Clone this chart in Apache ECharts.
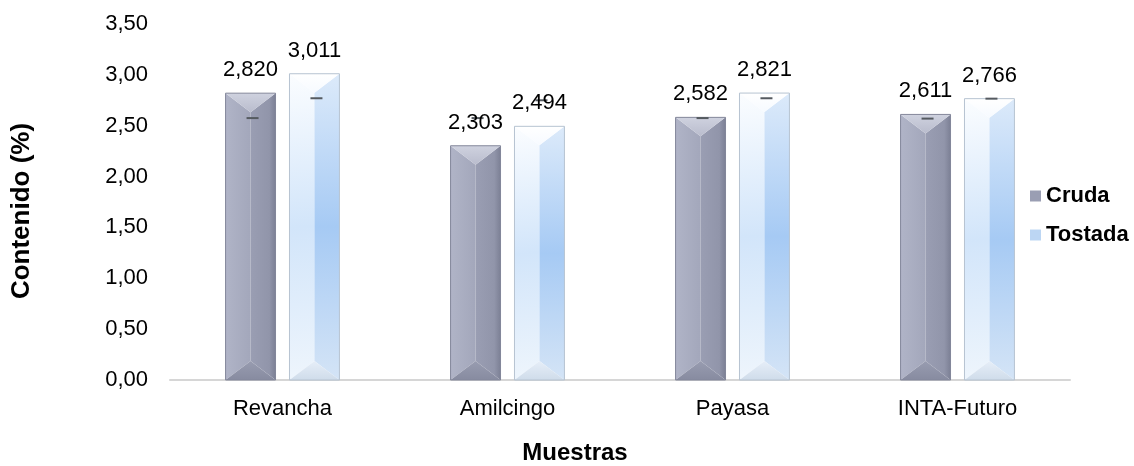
<!DOCTYPE html>
<html>
<head>
<meta charset="utf-8">
<script src="https://cdn.jsdelivr.net/npm/echarts@6/dist/echarts.min.js"></script>
<style>
  html, body { margin: 0; padding: 0; background: #ffffff; }
  #chart { width: 1134px; height: 466px; }
</style>
</head>
<body>
<div id="chart"></div>
<script>
// Contenido por muestra, cruda y tostada
const categories = ['Revancha', 'Amilcingo', 'Payasa', 'INTA-Futuro'];
const cruda = [2.820, 2.303, 2.582, 2.611];
const tostada = [3.011, 2.494, 2.821, 2.766];
// small cap marks drawn on each bar
const crudaMarks = [2.575, 2.575, 2.575, 2.570];
const tostadaMarks = [2.770, 2.750, 2.770, 2.766];
const yTicks = [0, 0.5, 1, 1.5, 2, 2.5, 3, 3.5];

const FONT = '"Liberation Sans", Arial, sans-serif';
const LG = echarts.graphic.LinearGradient;

const palettes = {
  cruda: {
    top: new LG(0, 0, 0, 1, [{ offset: 0, color: '#cfd2df' }, { offset: 1, color: '#b9bccd' }]),
    left: new LG(0, 0, 1, 0, [{ offset: 0, color: '#b0b4c7' }, { offset: 1, color: '#a3a7bb' }]),
    right: new LG(0, 0, 1, 0, [{ offset: 0, color: '#9a9eb3' }, { offset: 0.75, color: '#9195aa' }, { offset: 1, color: '#7c8095' }]),
    bottom: new LG(0, 0, 0, 1, [{ offset: 0, color: '#989cb0' }, { offset: 1, color: '#878ba0' }]),
    stroke: '#83879a',
    legend: '#9a9eb3'
  },
  tostada: {
    top: new LG(0, 0, 0, 1, [{ offset: 0, color: '#ffffff' }, { offset: 1, color: '#f6faff' }]),
    left: new LG(0, 0, 1, 1, [{ offset: 0, color: '#fbfdff' }, { offset: 0.5, color: '#d2e5fa' }, { offset: 1, color: '#eef5fc' }]),
    right: new LG(0, 0, 0, 1, [{ offset: 0, color: '#dceafa' }, { offset: 0.5, color: '#a6caf4' }, { offset: 1, color: '#d4e4f6' }]),
    bottom: new LG(0, 0, 0, 1, [{ offset: 0, color: '#e6eef8' }, { offset: 1, color: '#cfdcea' }]),
    stroke: '#b6c3d1',
    legend: '#bcd6f3'
  }
};

function fmt(v, d) {
  return v.toFixed(d).replace('.', ',');
}

// Beveled bar: top/bottom chevrons and two lit side faces
function makeRenderer(side, pal) {
  return function (params, api) {
    const band = api.size([1, 0])[0];
    const w = band * 0.222;
    const off = side * band * 0.142;
    const top = api.coord([api.value(0), api.value(1)]);
    const base = api.coord([api.value(0), 0]);
    const mark = api.coord([api.value(0), api.value(2)]);
    const xc = top[0] + off;
    const x0 = xc - w / 2, x1 = xc + w / 2;
    const y0 = top[1], y1 = base[1];
    const d = Math.min(w * 0.38, (y1 - y0) / 2);
    const children = [
      { type: 'polygon', shape: { points: [[x0, y0], [xc, y0 + d], [xc, y1 - d], [x0, y1]] }, style: { fill: pal.left } },
      { type: 'polygon', shape: { points: [[xc, y0 + d], [x1, y0], [x1, y1], [xc, y1 - d]] }, style: { fill: pal.right } },
      { type: 'polygon', shape: { points: [[x0, y0], [x1, y0], [xc, y0 + d]] }, style: { fill: pal.top } },
      { type: 'polygon', shape: { points: [[x0, y1], [xc, y1 - d], [x1, y1]] }, style: { fill: pal.bottom } },
      { type: 'rect', shape: { x: x0, y: y0, width: w, height: y1 - y0 }, style: { fill: null, stroke: pal.stroke, lineWidth: 1 } },
      { type: 'rect', shape: { x: xc - 4, y: mark[1] - 1, width: 12, height: 2 }, style: { fill: '#555a60' } },
      {
        type: 'text',
        x: xc, y: y0 - 12,
        style: {
          text: fmt(api.value(1), 3),
          fontFamily: FONT, fontSize: 22, fill: '#000',
          textAlign: 'center', textVerticalAlign: 'bottom'
        }
      }
    ];
    return { type: 'group', children: children };
  };
}

const chart = echarts.init(document.getElementById('chart'), null, { renderer: 'canvas' });

chart.setOption({
  animation: false,
  backgroundColor: '#ffffff',
  textStyle: { fontFamily: FONT },
  grid: { left: 170, right: 64, top: 24, bottom: 86 },
  legend: {
    orient: 'vertical',
    left: 1025, top: 180,
    itemWidth: 11, itemHeight: 11, itemGap: 17,
    icon: 'rect',
    textStyle: { fontFamily: FONT, fontSize: 22, fontWeight: 'bold', color: '#000' },
    data: [
      { name: 'Cruda', itemStyle: { color: palettes.cruda.legend } },
      { name: 'Tostada', itemStyle: { color: palettes.tostada.legend } }
    ]
  },
  xAxis: {
    type: 'category',
    data: categories,
    axisLine: { show: true, lineStyle: { color: '#d6d6d6', width: 2 } },
    axisTick: { show: false },
    axisLabel: { fontFamily: FONT, fontSize: 22, color: '#000', margin: 18 }
  },
  yAxis: {
    type: 'value',
    min: yTicks[0],
    max: yTicks[yTicks.length - 1],
    interval: yTicks[1] - yTicks[0],
    axisLine: { show: false },
    axisTick: { show: false },
    splitLine: { show: false },
    axisLabel: { fontFamily: FONT, fontSize: 22, color: '#000', margin: 22, formatter: v => fmt(v, 2) }
  },
  graphic: [
    {
      type: 'text', x: 22, y: 211, rotation: Math.PI / 2,
      style: { text: 'Contenido (%)', fontFamily: FONT, fontSize: 26, fontWeight: 'bold', fill: '#000', textAlign: 'center', textVerticalAlign: 'middle' }
    },
    {
      type: 'text', x: 575, y: 453,
      style: { text: 'Muestras', fontFamily: FONT, fontSize: 24, fontWeight: 'bold', fill: '#000', textAlign: 'center', textVerticalAlign: 'middle' }
    }
  ],
  series: [
    {
      name: 'Cruda', type: 'custom',
      itemStyle: { color: palettes.cruda.legend },
      renderItem: makeRenderer(-1, palettes.cruda),
      encode: { x: 0, y: 1 },
      data: cruda.map((v, i) => [i, v, crudaMarks[i]])
    },
    {
      name: 'Tostada', type: 'custom',
      itemStyle: { color: palettes.tostada.legend },
      renderItem: makeRenderer(1, palettes.tostada),
      encode: { x: 0, y: 1 },
      data: tostada.map((v, i) => [i, v, tostadaMarks[i]])
    }
  ]
});
</script>
</body>
</html>
